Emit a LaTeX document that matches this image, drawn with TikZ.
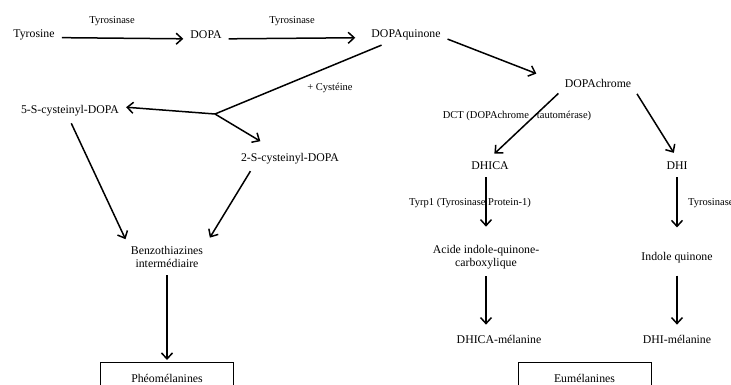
\documentclass[tikz,border=0pt]{standalone}
\usepackage{fontspec}
\setmainfont{Liberation Serif}
\usetikzlibrary{arrows.meta}

\tikzset{
  molecule/.style={inner sep=4pt, align=center, font=\fontsize{11.8}{13.5}\selectfont},
  enzyme/.style={inner sep=1pt, font=\fontsize{10.5}{12}\selectfont},
  fleche/.style={line width=1.5pt, -{Straight Barb[length=6pt,width=11pt]}, shorten <=3pt, shorten >=3pt},
  trait/.style={line width=1.5pt},
  boite/.style={draw, line width=0.6pt, minimum width=133pt, minimum height=32pt, anchor=north, font=\fontsize{11.8}{13.5}\selectfont}
}

\begin{document}
\begin{tikzpicture}[x=1pt, y=-1pt]
  \useasboundingbox (0,0) rectangle (731,385);

  % molecules
  \node [molecule] (tyrosine) at (34,35) {Tyrosine};
  \node [molecule] (dopa) at (206,35) {DOPA};
  \node [molecule] (dopaq) at (406,35) {DOPAquinone};
  \node [molecule] (dopachrome) at (598,83) {DOPAchrome};
  \node [molecule] (cys5) at (70,111) {5-S-cysteinyl-DOPA};
  \node [molecule] (cys2) at (290,159) {2-S-cysteinyl-DOPA};
  \node [molecule] (benzo) at (167,257) {Benzothiazines\\intermédiaire};
  \node [molecule] (dhica) at (490,166) {DHICA};
  \node [molecule] (dhi) at (677,166) {DHI};
  \node [molecule] (acide) at (486,257) {Acide indole-quinone-\\carboxylique};
  \node [molecule] (indole) at (677,258) {Indole quinone};
  \node [molecule] (dhicamel) at (499,339) {DHICA-mélanine};
  \node [molecule] (dhimel) at (677,339) {DHI-mélanine};
  \node [boite] (pheo) at (167,362) {Phéomélanines};
  \node [boite] (eum) at (584.5,362) {Eumélanines};

  % enzymes
  \node [enzyme] (tyrase1) at (112,21) {Tyrosinase};
  \node [enzyme] (tyrase2) at (292,21) {Tyrosinase};
  \node [enzyme] (cysteine) at (330,88) {+ Cystéine};
  \node [enzyme] (dct) at (517,116) {DCT (DOPAchrome \ \ tautomérase)};
  \node [enzyme] (tyrp) at (470,203) {Tyrp1 (Tyrosinase Protein-1)};
  \node [enzyme, anchor=west] (tyrase3) at (687,203) {Tyrosinase};

  \coordinate (fourche) at (215,114);

  \draw [fleche] (tyrosine.base east) -- (dopa.base west);
  \draw [fleche, shorten >=12pt] (dopa.base east) -- (dopaq.base west);
  \draw [fleche, shorten >=26pt] ([yshift=-3pt]dopaq.east) -- (dopachrome.west);
  \draw [trait, shorten <=2pt] (dopaq) -- (fourche);
  \draw [fleche, shorten <=0pt] (fourche) -- ([yshift=4pt]cys5.east);
  \draw [fleche, shorten <=0pt, shorten >=16pt] (fourche) -- (cys2);
  \draw [fleche] (cys5.south) -- (benzo.north west);
  \draw [fleche, shorten >=5pt] ([xshift=-38pt]cys2.south) -- (benzo.north east);
  \draw [fleche, shorten >=2pt] (benzo) -- (pheo);

  \draw [fleche, shorten >=6pt] (dopachrome.south west) -- (dhica.north);
  \draw [fleche, shorten >=6pt] (dopachrome.south east) -- (dhi.north);
  \draw [fleche, shorten >=14pt] (acide.north |- dhica.south) -- (acide.north);
  \draw [fleche, shorten >=21pt] (dhi) -- (indole);
  \draw [fleche, shorten >=6pt] (acide.south) -- (acide.south |- dhicamel.north);
  \draw [fleche, shorten <=8pt, shorten >=6pt] (indole) -- (dhimel);
\end{tikzpicture}
\end{document}
